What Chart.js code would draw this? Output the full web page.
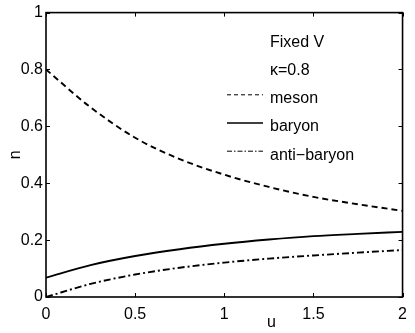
<!DOCTYPE html>
<html><head><meta charset="utf-8">
<script src="https://cdn.jsdelivr.net/npm/chart.js@4/dist/chart.umd.min.js"></script>
<style>html,body{margin:0;padding:0;background:#fff}#wrap{width:415px;height:333px}</style>
</head><body><div id="wrap"><canvas id="c" width="415" height="333"></canvas></div>
<script>
const uValues = [0, 0.25, 0.5, 0.75, 1, 1.25, 1.5, 1.75, 2];
const mesonValues = [0.800, 0.667, 0.560, 0.485, 0.430, 0.387, 0.352, 0.326, 0.303];
const baryonValues = [0.068, 0.112, 0.144, 0.168, 0.187, 0.202, 0.214, 0.222, 0.229];
const antiBaryonValues = [0.000, 0.046, 0.079, 0.103, 0.121, 0.135, 0.146, 0.156, 0.165];
const xTicks = [0, 0.5, 1, 1.5, 2];
const yTicks = [0, 0.2, 0.4, 0.6, 0.8, 1];
const seriesLabels = ['meson', 'baryon', 'anti\u2212baryon'];
const annotationLines = ['Fixed V', '\u03ba=0.8'];
const xTitle = 'u';
const yTitle = 'n';

const FONT = '"Liberation Sans", Arial, Helvetica, sans-serif';
const toPts = (ys) => uValues.map((u, i) => ({x: u, y: ys[i]}));
const dashes = [[6, 4], [], [7, 3, 2, 3]];
const legendDashes = [[4, 3], [], [5, 2, 1.5, 2]];
const legendWidths = [1, 1.6, 1];

const framePlugin = {
  id: 'frame',
  afterDraw(chart) {
    const {ctx, chartArea: a, scales: {x, y}} = chart;
    ctx.save();
    ctx.strokeStyle = '#000';
    ctx.lineWidth = 1.6;
    ctx.setLineDash([]);
    ctx.strokeRect(a.left, a.top, a.right - a.left, a.bottom - a.top);
    ctx.lineWidth = 1;
    const tl = 4;
    ctx.beginPath();
    xTicks.forEach(v => {
      const px = Math.round(x.getPixelForValue(v)) + 0.5;
      ctx.moveTo(px, a.bottom); ctx.lineTo(px, a.bottom - tl);
      ctx.moveTo(px, a.top); ctx.lineTo(px, a.top + tl);
    });
    yTicks.forEach(v => {
      const py = Math.round(y.getPixelForValue(v)) + 0.5;
      ctx.moveTo(a.left, py); ctx.lineTo(a.left + tl, py);
      ctx.moveTo(a.right, py); ctx.lineTo(a.right - tl, py);
    });
    ctx.stroke();

    ctx.fillStyle = '#000';
    ctx.font = '16px ' + FONT;
    ctx.textAlign = 'center';
    ctx.textBaseline = 'alphabetic';
    ctx.fillText(xTitle, 271.5, 327);
    ctx.save();
    ctx.translate(20, (a.top + a.bottom) / 2);
    ctx.rotate(-Math.PI / 2);
    ctx.fillText(yTitle, 0, 0);
    ctx.restore();

    ctx.textAlign = 'left';
    const tx = 270;
    const base0 = 46.7, step = 28.2;
    annotationLines.forEach((t, i) => ctx.fillText(t, tx, base0 + i * step));
    seriesLabels.forEach((t, i) => {
      const b = base0 + (i + 2) * step;
      ctx.fillText(t, tx, b);
      ctx.beginPath();
      ctx.lineWidth = legendWidths[i];
      ctx.setLineDash(legendDashes[i]);
      ctx.moveTo(227, b - 8.3);
      ctx.lineTo(263, b - 8.3);
      ctx.stroke();
    });
    ctx.restore();
  }
};

new Chart(document.getElementById('c'), {
  type: 'line',
  data: {
    datasets: [mesonValues, baryonValues, antiBaryonValues].map((ys, i) => ({
      label: seriesLabels[i],
      data: toPts(ys),
      borderColor: '#000',
      backgroundColor: '#000',
      borderWidth: 1.9,
      borderDash: dashes[i],
      pointRadius: 0,
      cubicInterpolationMode: 'monotone',
      fill: false
    }))
  },
  options: {
    responsive: false,
    devicePixelRatio: 1,
    animation: false,
    layout: {padding: {top: 12, right: 9, left: 0, bottom: 0}},
    plugins: {legend: {display: false}, tooltip: {enabled: false}},
    scales: {
      x: {
        type: 'linear', min: 0, max: 2,
        afterBuildTicks: s => { s.ticks = xTicks.map(v => ({value: v})); },
        afterFit: s => { s.height = 36; },
        grid: {display: false, drawTicks: false},
        border: {display: false},
        ticks: {color: '#000', font: {family: FONT, size: 16}, padding: 8, maxRotation: 0, autoSkip: false,
                callback: v => String(v)}
      },
      y: {
        type: 'linear', min: 0, max: 1,
        afterBuildTicks: s => { s.ticks = yTicks.map(v => ({value: v})); },
        afterFit: s => { s.width = 46; },
        grid: {display: false, drawTicks: false},
        border: {display: false},
        ticks: {color: '#000', font: {family: FONT, size: 16}, padding: 3, autoSkip: false,
                callback: v => String(v)}
      }
    }
  },
  plugins: [framePlugin]
});
</script>
</body></html>
